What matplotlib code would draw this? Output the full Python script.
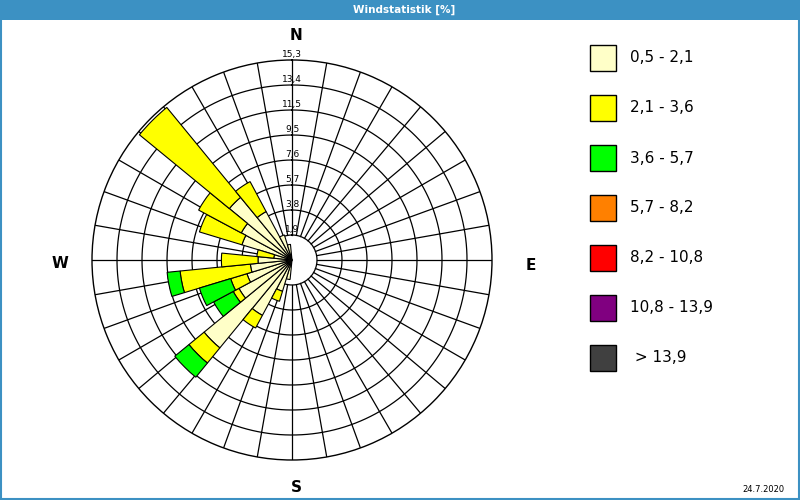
import matplotlib.pyplot as plt
from matplotlib.patches import Rectangle
import numpy as np

# wind rose data: 32 direction sectors, percent per speed class
sector_deg = [191.25, 202.5, 213.75, 225.0, 236.25, 247.5, 258.75, 270.0,
              281.25, 292.5, 303.75, 315.0, 326.25, 337.5, 348.75]
pale = [1.5, 2.5, 4.8, 8.7, 4.6, 3.6, 3.2, 2.6, 1.4, 4.0, 4.4, 6.2, 4.2, 2.0, 1.2]
yellow = [0.0, 0.8, 1.1, 1.5, 0.5, 1.3, 5.4, 2.8, 1.3, 3.4, 3.7, 8.9, 2.6, 0.0, 0.0]
green = [0.0, 0.0, 0.0, 1.4, 1.7, 2.5, 1.0, 0.0, 0.0, 0.0, 0.0, 0.0, 0.0, 0.0, 0.0]

class_labels = ['0,5 - 2,1', '2,1 - 3,6', '3,6 - 5,7', '5,7 - 8,2',
                '8,2 - 10,8', '10,8 - 13,9', ' > 13,9']
class_colors = ['#ffffc8', '#ffff00', '#00ff00', '#ff8000',
                '#ff0000', '#800080', '#404040']

ring_labels = ['1,9', '3,8', '5,7', '7,6', '9,5', '11,5', '13,4', '15,3']
r_max = 15.3
ring_step = r_max / 8

W, H = 800, 500
fig = plt.figure(figsize=(8, 5), dpi=100)
fig.patch.set_facecolor('white')

def fx(x):
    return x / W

def fy(y):
    return 1 - y / H

# title bar and frame
blue = '#3c91c3'
fig.patches.append(Rectangle((0, fy(20)), 1, 20 / H, transform=fig.transFigure,
                             facecolor=blue, edgecolor='none', zorder=0))
fig.patches.append(Rectangle((0.001, 0.002), 0.998, 0.996, transform=fig.transFigure,
                             facecolor='none', edgecolor=blue, lw=1.5, zorder=5))
fig.text(0.505, fy(10), 'Windstatistik [%]', color='white', fontsize=7.5,
         fontweight='bold', ha='center', va='center')

# polar rose centred at (292, 260), radius 200 px
cx, cy, rad = 292, 260, 200
ax = fig.add_axes([fx(cx - rad), fy(cy + rad), 2 * rad / W, 2 * rad / H],
                  projection='polar')
ax.set_theta_zero_location('N')
ax.set_theta_direction(-1)
ax.set_ylim(0, r_max)
ax.set_xticks([])
ax.set_yticks([])
ax.grid(False)
ax.spines['polar'].set_color('black')
ax.spines['polar'].set_linewidth(1.0)

t = np.linspace(0, 2 * np.pi, 400)
for k in range(1, 8):
    ax.plot(t, np.full_like(t, k * ring_step), color='black', lw=0.9, zorder=1)
for a in range(0, 360, 10):
    th = np.deg2rad(a)
    ax.plot([th, th], [ring_step, r_max], color='black', lw=0.9, zorder=1)

# stacked bars
theta = np.deg2rad(sector_deg)
width = np.deg2rad(11.25)
bottom = np.zeros(len(sector_deg))
for vals, col in zip([pale, yellow, green], class_colors):
    vals = np.array(vals)
    mask = vals > 0
    ax.bar(theta[mask], vals[mask], width=width, bottom=bottom[mask],
           color=col, edgecolor='black', linewidth=0.8, zorder=2)
    bottom = bottom + vals

for k, lab in enumerate(ring_labels, start=1):
    ax.annotate(lab, xy=(0, k * ring_step), xytext=(0, 1.0), textcoords='offset points',
                ha='center', va='bottom', fontsize=6.5, zorder=4,
                annotation_clip=False)

# compass letters
for lab, x, y in [('N', 296, 35), ('S', 296, 488), ('W', 60, 263), ('E', 531, 265)]:
    fig.text(fx(x), fy(y), lab, fontsize=11, fontweight='bold', ha='center', va='center')

# legend
for i, (lab, col) in enumerate(zip(class_labels, class_colors)):
    top = 45 + 50 * i
    fig.patches.append(Rectangle((fx(590), fy(top + 26)), 26 / W, 26 / H,
                                 transform=fig.transFigure, facecolor=col,
                                 edgecolor='black', lw=1.0))
    fig.text(fx(630), fy(top + 13), lab, fontsize=11, ha='left', va='center')

fig.text(fx(785), fy(489), '24.7.2020', fontsize=6, ha='right', va='center')

fig.savefig('out.png', dpi=100)
